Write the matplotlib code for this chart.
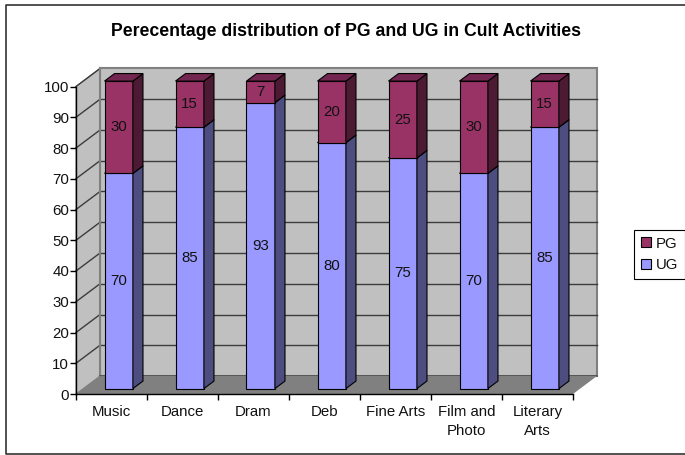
import matplotlib
matplotlib.use('Agg')
import matplotlib.pyplot as plt
from matplotlib.patches import Polygon, Patch
from matplotlib.lines import Line2D

plt.rcParams['font.family'] = ['Liberation Sans', 'DejaVu Sans']

categories = ['Music', 'Dance', 'Dram', 'Deb', 'Fine Arts', 'Film and\nPhoto', 'Literary\nArts']
ug = [70, 85, 93, 80, 75, 70, 85]
pg = [30, 15, 7, 20, 25, 30, 15]
yticks = [0, 10, 20, 30, 40, 50, 60, 70, 80, 90, 100]

W, H = 685, 455
fig = plt.figure(figsize=(W / 100, H / 100), dpi=100)
# front plane of the fake 3d box
ax = fig.add_axes([76 / W, 1 - 394 / H, 497 / W, 307.5 / H])
ax.set_xlim(0, 7)
ax.set_ylim(0, 100)
ax.patch.set_visible(False)

# depth offset of the back wall in data units
DX = 24 / 71
DY = 18 / 3.075


def proj(x, y, d):
    return (x + d * DX, y + d * DY)


def poly(pts, fc, ec='none', lw=0.0, z=1):
    ax.add_patch(Polygon(pts, closed=True, facecolor=fc, edgecolor=ec, linewidth=lw,
                         zorder=z, clip_on=False))


# walls and floor
poly([proj(0, 0, 1), proj(7, 0, 1), proj(7, 100, 1), proj(0, 100, 1)], '#c0c0c0', '#808080', 1.5, 1)
poly([proj(0, 0, 0), proj(0, 0, 1), proj(0, 100, 1), proj(0, 100, 0)], '#c0c0c0', '#808080', 0.8, 1)
poly([proj(0, 0, 0), proj(7, 0, 0), proj(7, 0, 1), proj(0, 0, 1)], '#808080', 'none', 0, 2)

# gridlines
for v in yticks[1:-1]:
    ax.plot(*zip(proj(0, v, 1), proj(7, v, 1)), color='#3c3c3c', lw=1.0, zorder=1.5, clip_on=False)
for v in yticks[1:]:
    ax.plot(*zip(proj(0, v, 0), proj(0, v, 1)), color='#3c3c3c', lw=1.0, zorder=1.5, clip_on=False)
ax.plot(*zip(proj(0, 0, 1), proj(0, 100, 1)), color='#808080', lw=1.5, zorder=1.6, clip_on=False)
ax.plot(*zip(proj(0, 0, 1), proj(7, 0, 1)), color='#505050', lw=1.2, zorder=1.6, clip_on=False)


def bar3d(i, bottom, top, front, side, roof):
    w = 0.40
    d0, d1 = 0.30, 0.72
    x0 = i + 0.5 - w / 2
    x1 = x0 + w
    z = 3 + i * 0.1
    poly([proj(x0, bottom, d0), proj(x1, bottom, d0), proj(x1, top, d0), proj(x0, top, d0)],
         front, 'black', 0.8, z)
    poly([proj(x1, bottom, d0), proj(x1, bottom, d1), proj(x1, top, d1), proj(x1, top, d0)],
         side, 'black', 0.8, z)
    poly([proj(x0, top, d0), proj(x1, top, d0), proj(x1, top, d1), proj(x0, top, d1)],
         roof, 'black', 0.8, z)
    cx, cy = proj(i + 0.5, (bottom + top) / 2, d0)
    ax.text(cx, cy, str(top - bottom), ha='center', va='center', fontsize=10.8,
            color='#111111', zorder=z + 0.05)


for i in range(len(categories)):
    bar3d(i, 0, ug[i], '#9999ff', '#4d4d80', '#7a7acc')
    bar3d(i, ug[i], ug[i] + pg[i], '#993366', '#4d1a33', '#732650')

# axes
for s in ['top', 'right']:
    ax.spines[s].set_visible(False)
ax.spines['left'].set_linewidth(1.0)
ax.spines['bottom'].set_linewidth(1.0)
ax.spines['left'].set_zorder(6)
ax.spines['bottom'].set_zorder(6)
ax.set_yticks(yticks)
ax.set_xticks(range(len(categories) + 1))
ax.set_xticklabels([])
ax.tick_params(axis='both', length=4, width=1.0, labelsize=10.8, labelcolor='#111111')
ax.tick_params(axis='y', pad=1)
for i, c in enumerate(categories):
    ax.annotate(c, xy=(i + 0.5, 0), xytext=(0, -8.2), textcoords='offset points', ha='center',
                va='top', fontsize=10.8, color='#111111', linespacing=1.4)

fig.text(346 / W, 1 - 32 / H, 'Perecentage distribution of PG and UG in Cult Activities',
         ha='center', va='center', fontsize=12.7, fontweight='bold', color='black')

handles = [Patch(facecolor='#993366', edgecolor='black', linewidth=0.8, label='PG'),
           Patch(facecolor='#9999ff', edgecolor='black', linewidth=0.8, label='UG')]
leg = fig.legend(handles=handles, loc='center', bbox_to_anchor=(659.5 / W, 1 - 254.5 / H),
                 fontsize=10.8, frameon=True, fancybox=False, edgecolor='black', framealpha=1,
                 handlelength=0.65, handleheight=0.65, handletextpad=0.3, labelspacing=0.5,
                 borderpad=0.45, borderaxespad=0, labelcolor='#111111')
leg.get_frame().set_linewidth(0.8)

# outer chart frame: left, top and bottom edges only
frame_x = [685 / W, 5.5 / W, 5.5 / W, 685 / W]
frame_y = [1 - 5 / H, 1 - 5 / H, 1 - 454 / H, 1 - 454 / H]
fig.add_artist(Line2D(frame_x, frame_y, transform=fig.transFigure, color='#333333', linewidth=1.2))

fig.savefig('out.png', dpi=100)
